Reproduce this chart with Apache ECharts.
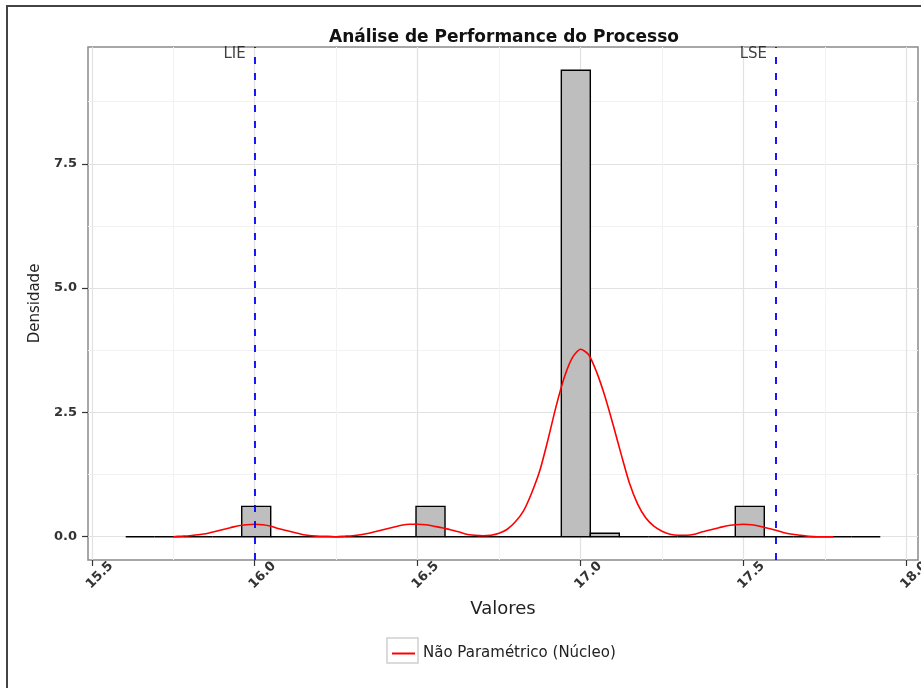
<!DOCTYPE html>
<html>
<head>
<meta charset="utf-8">
<script src="https://cdn.jsdelivr.net/npm/echarts@6/dist/echarts.min.js"></script>
<style>
  html, body { margin: 0; padding: 0; background: #ffffff; }
  #chart { width: 921px; height: 688px; }
</style>
</head>
<body>
<div id="chart"></div>
<script>
// Histogram bins (edges) and their density heights
const binEdges = [
  15.604, 15.693, 15.782, 15.871, 15.960, 16.049, 16.139, 16.228, 16.317,
  16.406, 16.495, 16.584, 16.673, 16.762, 16.851, 16.941, 17.030, 17.119,
  17.208, 17.297, 17.386, 17.475, 17.564, 17.653, 17.742, 17.831, 17.920
];
const binDensity = [
  0, 0, 0, 0, 0.61, 0, 0, 0, 0, 0, 0.61, 0, 0,
  0, 0, 9.38, 0.07, 0, 0, 0, 0, 0.61, 0, 0, 0, 0
];

// Kernel density estimate (non-parametric curve)
const densityX = [
  15.750, 15.775, 15.800, 15.825, 15.850, 15.875, 15.900, 15.925, 15.950, 15.975,
  16.000, 16.025, 16.050, 16.075, 16.100, 16.125, 16.150, 16.175, 16.200, 16.225,
  16.250, 16.275, 16.300, 16.325, 16.350, 16.375, 16.400, 16.425, 16.450, 16.475,
  16.500, 16.525, 16.550, 16.575, 16.600, 16.625, 16.650, 16.675, 16.700, 16.725,
  16.750, 16.775, 16.800, 16.825, 16.850, 16.875, 16.900, 16.925, 16.950, 16.975,
  17.000, 17.025, 17.050, 17.075, 17.100, 17.125, 17.150, 17.175, 17.200, 17.225,
  17.250, 17.275, 17.300, 17.325, 17.350, 17.375, 17.400, 17.425, 17.450, 17.475,
  17.500, 17.525, 17.550, 17.575, 17.600, 17.625, 17.650, 17.675, 17.700, 17.725,
  17.750, 17.775
];
const densityY = [
  0.00, 0.01, 0.02, 0.04, 0.06, 0.10, 0.14, 0.18, 0.22, 0.24,
  0.25, 0.24, 0.21, 0.16, 0.12, 0.08, 0.04, 0.02, 0.01, 0.01,
  0.00, 0.01, 0.02, 0.04, 0.07, 0.11, 0.15, 0.19, 0.23, 0.25,
  0.25, 0.24, 0.21, 0.18, 0.14, 0.10, 0.05, 0.03, 0.02, 0.03,
  0.07, 0.15, 0.30, 0.52, 0.88, 1.33, 1.95, 2.62, 3.20, 3.60,
  3.77, 3.66, 3.30, 2.82, 2.25, 1.65, 1.08, 0.66, 0.38, 0.21,
  0.11, 0.05, 0.03, 0.03, 0.05, 0.10, 0.14, 0.18, 0.22, 0.24,
  0.25, 0.24, 0.21, 0.17, 0.13, 0.08, 0.05, 0.03, 0.01, 0.00,
  0.00, 0.00
];

// Specification limits
const specLimits = [16.0, 17.6];
const specLabels = ['LIE', 'LSE'];

// Axis ticks
const xTicks = [15.5, 16.0, 16.5, 17.0, 17.5, 18.0];
const xMinorTicks = [15.75, 16.25, 16.75, 17.25, 17.75];
const yTicks = [0, 2.5, 5.0, 7.5];
const yMinorTicks = [1.25, 3.75, 6.25, 8.75];

const chartTitle = 'Análise de Performance do Processo';
const xTitle = 'Valores';
const yTitle = 'Densidade';
const densityName = 'Não Paramétrico (Núcleo)';

// Axis ranges: data extent plus 5% on each side
const xLo = binEdges[0], xHi = binEdges[binEdges.length - 1];
const xPad = (xHi - xLo) * 0.05;
const xMin = xLo - xPad, xMax = xHi + xPad;
const hMax = Math.max.apply(null, binDensity);
const yMin = -hMax * 0.05, yMax = hMax * 1.05;

const histData = binDensity.map((h, i) => [binEdges[i], binEdges[i + 1], h]);
const curveData = densityX.map((x, i) => [x, densityY[i]]);
const limitData = specLimits.map((v, i) => [v, yMax, specLabels[i]]);

const FONT = 'DejaVu Sans';
const TEXT = '#222222';

const chart = echarts.init(document.getElementById('chart'), null, { renderer: 'canvas' });

chart.setOption({
  backgroundColor: '#ffffff',
  animation: false,
  textStyle: { fontFamily: FONT },
  title: {
    text: chartTitle,
    left: 499,
    top: 24,
    textAlign: 'center',
    textStyle: { fontFamily: FONT, fontSize: 17, fontWeight: 'bold', color: '#111111' }
  },
  legend: {
    data: [densityName],
    left: 387,
    top: 641,
    icon: 'rect',
    itemWidth: 23,
    itemHeight: 2,
    textStyle: { fontFamily: FONT, fontSize: 15, color: TEXT, padding: [0, 0, 0, 3] }
  },
  grid: {
    left: 88,
    right: 3,
    top: 47,
    bottom: 128,
    show: true,
    borderColor: '#8a8a8a',
    borderWidth: 1.5,
    backgroundColor: 'transparent',
    containLabel: false,
    outerBoundsMode: 'none'
  },
  graphic: [
    {
      type: 'rect', z: -1, silent: true,
      shape: { x: 7, y: 6, width: 1000, height: 1000 },
      style: { fill: 'none', stroke: '#444444', lineWidth: 2 }
    },
    {
      type: 'rect', z: 0, silent: true,
      shape: { x: 387, y: 638, width: 31, height: 25 },
      style: { fill: '#ffffff', stroke: '#cfcfcf', lineWidth: 1.5 }
    }
  ],
  xAxis: [
    {
      type: 'value',
      min: xMin,
      max: xMax,
      position: 'bottom',
      axisLine: { show: false, onZero: false },
      axisTick: { show: true, customValues: xTicks, length: 6, lineStyle: { color: '#333333', width: 1.2 } },
      axisLabel: {
        customValues: xTicks,
        rotate: 45,
        margin: 23,
        align: 'center',
        verticalAlign: 'middle',
        padding: [0, 0, 0, 22],
        formatter: v => v.toFixed(1),
        fontFamily: FONT, fontSize: 13, fontWeight: 'bold', color: '#333333'
      },
      splitLine: { show: true, lineStyle: { color: '#e2e2e2', width: 1.2 } },
      name: xTitle,
      nameLocation: 'middle',
      nameGap: 40,
      nameTextStyle: { fontFamily: FONT, fontSize: 18, color: TEXT }
    },
    {
      type: 'value',
      min: xMin,
      max: xMax,
      position: 'top',
      axisLine: { show: false },
      axisTick: { show: false, customValues: xMinorTicks },
      axisLabel: { show: false, customValues: xMinorTicks },
      splitLine: { show: true, lineStyle: { color: '#f2f2f2', width: 1 } }
    }
  ],
  yAxis: [
    {
      type: 'value',
      min: yMin,
      max: yMax,
      position: 'left',
      axisLine: { show: false, onZero: false },
      axisTick: { show: true, customValues: yTicks, length: 6, lineStyle: { color: '#333333', width: 1.2 } },
      axisLabel: {
        customValues: yTicks,
        margin: 11,
        formatter: v => v.toFixed(1),
        fontFamily: FONT, fontSize: 13, fontWeight: 'bold', color: '#333333'
      },
      splitLine: { show: true, lineStyle: { color: '#e2e2e2', width: 1.2 } },
      name: yTitle,
      nameLocation: 'middle',
      nameGap: 44,
      nameTextStyle: { fontFamily: FONT, fontSize: 15, color: TEXT }
    },
    {
      type: 'value',
      min: yMin,
      max: yMax,
      position: 'right',
      axisLine: { show: false },
      axisTick: { show: false, customValues: yMinorTicks },
      axisLabel: { show: false, customValues: yMinorTicks },
      splitLine: { show: true, lineStyle: { color: '#f2f2f2', width: 1 } }
    }
  ],
  series: [
    {
      name: 'Histograma',
      type: 'custom',
      xAxisIndex: 0,
      yAxisIndex: 0,
      z: 2,
      encode: { x: [0, 1], y: 2 },
      data: histData,
      renderItem: function (params, api) {
        const top = api.coord([api.value(0), api.value(2)]);
        const bot = api.coord([api.value(1), 0]);
        const xl = top[0], xr = bot[0], yt = top[1], yb = bot[1];
        return {
          type: 'group',
          children: [
            {
              type: 'rect',
              shape: { x: xl, y: yt, width: xr - xl, height: yb - yt },
              style: { fill: '#bebebe' }
            },
            {
              type: 'polyline',
              shape: { points: [[xl, yb], [xl, yt], [xr, yt], [xr, yb], [xl, yb]] },
              style: { stroke: '#000000', lineWidth: 1.4, fill: null }
            }
          ]
        };
      }
    },
    {
      name: densityName,
      type: 'line',
      xAxisIndex: 0,
      yAxisIndex: 0,
      z: 3,
      data: curveData,
      showSymbol: false,
      symbol: 'none',
      smooth: 0.25,
      color: '#ff0000',
      lineStyle: { color: '#ff0000', width: 1.6 }
    },
    {
      name: 'Limites',
      type: 'scatter',
      xAxisIndex: 0,
      yAxisIndex: 0,
      z: 4,
      symbolSize: 0,
      data: limitData,
      label: {
        show: true,
        position: 'left',
        distance: 9,
        offset: [0, 7],
        formatter: p => p.data[2],
        fontFamily: FONT,
        fontSize: 15,
        color: '#111111'
      },
      markLine: {
        silent: true,
        symbol: ['none', 'none'],
        label: { show: false },
        lineStyle: { color: '#0000ff', type: [7, 9], width: 1.8 },
        data: specLimits.map(v => ({ xAxis: v }))
      }
    }
  ]
});
</script>
</body>
</html>
